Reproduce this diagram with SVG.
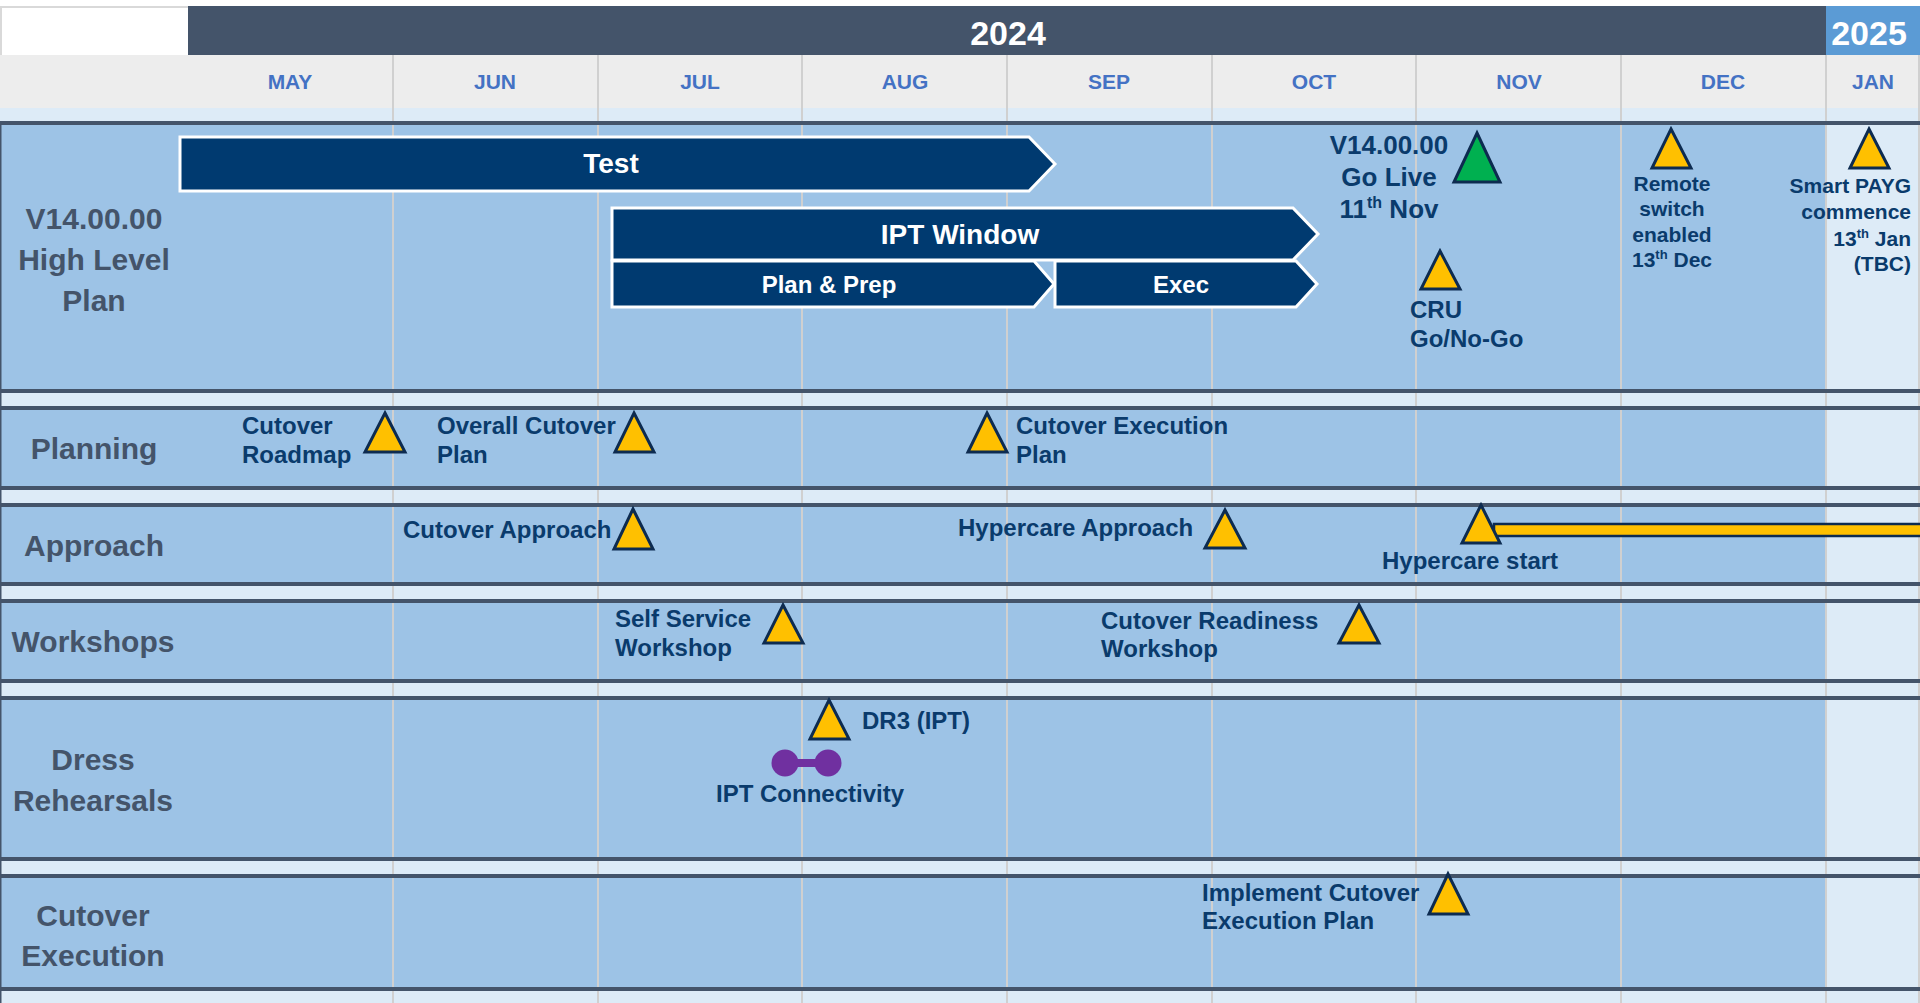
<svg xmlns="http://www.w3.org/2000/svg" width="1920" height="1003" viewBox="0 0 1920 1003">
<defs>
<style>
text{font-family:"Liberation Sans",Arial,sans-serif;font-weight:bold}
.lab{font-size:30px;fill:#44546A;text-anchor:middle}
.mon{font-size:21px;fill:#4472C4;text-anchor:middle}
.yr{font-size:34px;fill:#FFFFFF;text-anchor:middle}
.ms{font-size:24px;fill:#0A3B6C}
.ms21{font-size:21px;fill:#0A3B6C}
.ms26{font-size:26px;fill:#0A3B6C;text-anchor:middle}
.bt{font-size:28px;fill:#FFFFFF;text-anchor:middle}
.bt2{font-size:24px;fill:#FFFFFF;text-anchor:middle}
.bar{fill:#003A70;stroke:#FFFFFF;stroke-width:3}
.tri{fill:#FFC000;stroke:#0D2B50;stroke-width:3;stroke-linejoin:miter}
.band{fill:#9DC3E6}
.strip{fill:#DDEBF7}
.dark{fill:#44546A}
.div{stroke:#D0D0D0;stroke-width:2}
</style>
</defs>
<rect x="0" y="0" width="1920" height="1003" fill="#FFFFFF"/>
<g id="grid">
<rect x="188" y="6" width="1638" height="49" fill="#44546A"/>
<rect x="1826" y="6" width="94" height="49" fill="#5B9BD5"/>
<path d="M1 55 V7 H188" fill="none" stroke="#D9D9D9" stroke-width="2"/>
<rect x="0" y="55" width="1920" height="53" fill="#EDEDED"/>
<rect class="strip" x="0" y="108" width="1920" height="13"/>
<rect class="band" x="0" y="125" width="1826" height="264"/>
<rect class="band" x="0" y="410" width="1826" height="76"/>
<rect class="band" x="0" y="507" width="1826" height="75"/>
<rect class="band" x="0" y="603" width="1826" height="76"/>
<rect class="band" x="0" y="700" width="1826" height="157"/>
<rect class="band" x="0" y="878" width="1826" height="109"/>
<rect class="strip" x="1826" y="121" width="94" height="882"/>
<rect class="strip" x="0" y="393" width="1826" height="13"/>
<rect class="strip" x="0" y="490" width="1826" height="13"/>
<rect class="strip" x="0" y="586" width="1826" height="13"/>
<rect class="strip" x="0" y="683" width="1826" height="13"/>
<rect class="strip" x="0" y="861" width="1826" height="13"/>
<rect class="strip" x="0" y="991" width="1826" height="12"/>
<g class="div">
<line x1="393" y1="55" x2="393" y2="1003"/>
<line x1="598" y1="55" x2="598" y2="1003"/>
<line x1="802" y1="55" x2="802" y2="1003"/>
<line x1="1007" y1="55" x2="1007" y2="1003"/>
<line x1="1212" y1="55" x2="1212" y2="1003"/>
<line x1="1416" y1="55" x2="1416" y2="1003"/>
<line x1="1621" y1="55" x2="1621" y2="1003"/>
<line x1="1826" y1="55" x2="1826" y2="1003"/>
<line x1="1919" y1="55" x2="1919" y2="1003"/>
</g>
<rect class="dark" x="0" y="121" width="1920" height="4"/>
<rect class="dark" x="0" y="389" width="1920" height="4"/>
<rect class="dark" x="0" y="406" width="1920" height="4"/>
<rect class="dark" x="0" y="486" width="1920" height="4"/>
<rect class="dark" x="0" y="503" width="1920" height="4"/>
<rect class="dark" x="0" y="582" width="1920" height="4"/>
<rect class="dark" x="0" y="599" width="1920" height="4"/>
<rect class="dark" x="0" y="679" width="1920" height="4"/>
<rect class="dark" x="0" y="696" width="1920" height="4"/>
<rect class="dark" x="0" y="857" width="1920" height="4"/>
<rect class="dark" x="0" y="874" width="1920" height="4"/>
<rect class="dark" x="0" y="987" width="1920" height="4"/>
<rect class="dark" x="0" y="121" width="1.5" height="882"/>
</g>
<g id="header">
<text class="yr" x="1008" y="45">2024</text>
<text class="yr" x="1869" y="45">2025</text>
<text class="mon" x="290" y="89">MAY</text>
<text class="mon" x="495" y="89">JUN</text>
<text class="mon" x="700" y="89">JUL</text>
<text class="mon" x="905" y="89">AUG</text>
<text class="mon" x="1109" y="89">SEP</text>
<text class="mon" x="1314" y="89">OCT</text>
<text class="mon" x="1519" y="89">NOV</text>
<text class="mon" x="1723" y="89">DEC</text>
<text class="mon" x="1873" y="89">JAN</text>
</g>
<g id="row-labels">
<text class="lab" x="94" y="229">V14.00.00</text>
<text class="lab" x="94" y="270">High Level</text>
<text class="lab" x="94" y="311">Plan</text>
<text class="lab" x="94" y="459">Planning</text>
<text class="lab" x="94" y="556">Approach</text>
<text class="lab" x="93" y="652">Workshops</text>
<text class="lab" x="93" y="770">Dress</text>
<text class="lab" x="93" y="811">Rehearsals</text>
<text class="lab" x="93" y="926">Cutover</text>
<text class="lab" x="93" y="966">Execution</text>
</g>
<g id="connectors">
<rect x="1494" y="524" width="428" height="12" fill="#FFC000" stroke="#0D2B50" stroke-width="2.5"/>
</g>
<g id="bar-test">
<polygon class="bar" points="180,137 1029,137 1055,164 1029,191 180,191"/>
<text class="bt" x="611" y="173">Test</text>
</g>
<g id="bar-ipt-window">
<polygon class="bar" points="612,208 1293,208 1318,234 1293,260 612,260"/>
<text class="bt" x="960" y="244">IPT Window</text>
</g>
<g id="bar-plan-prep">
<polygon class="bar" points="612,261 1034,261 1054,284 1034,307 612,307"/>
<text class="bt2" x="829" y="293">Plan &amp; Prep</text>
</g>
<g id="bar-exec">
<polygon class="bar" points="1055,261 1296,261 1317,284 1296,307 1055,307"/>
<text class="bt2" x="1181" y="293">Exec</text>
</g>
<g id="ms-go-live">
<polygon points="1477,133 1500,182 1454,182" fill="#00B050" stroke="#0D2B50" stroke-width="3"/>
<text class="ms26" x="1389" y="154">V14.00.00</text>
<text class="ms26" x="1389" y="186">Go Live</text>
<text class="ms26" x="1389" y="218">11<tspan font-size="16" dy="-10">th</tspan><tspan dy="10"> Nov</tspan></text>
</g>
<g id="ms-cru">
<polygon class="tri" points="1440,251 1460,289 1421,289"/>
<text class="ms" x="1410" y="318">CRU</text>
<text class="ms" x="1410" y="347">Go/No-Go</text>
</g>
<g id="ms-remote-switch">
<polygon class="tri" points="1671,129 1691,168 1652,168"/>
<text class="ms21" text-anchor="middle" x="1672" y="191">Remote</text>
<text class="ms21" text-anchor="middle" x="1672" y="216">switch</text>
<text class="ms21" text-anchor="middle" x="1672" y="242">enabled</text>
<text class="ms21" text-anchor="middle" x="1672" y="267">13<tspan font-size="13" dy="-8">th</tspan><tspan dy="8"> Dec</tspan></text>
</g>
<g id="ms-smart-payg">
<polygon class="tri" points="1869,129 1889,168 1850,168"/>
<text class="ms21" text-anchor="end" x="1911" y="193">Smart PAYG</text>
<text class="ms21" text-anchor="end" x="1911" y="219">commence</text>
<text class="ms21" text-anchor="end" x="1911" y="246">13<tspan font-size="13" dy="-8">th</tspan><tspan dy="8"> Jan</tspan></text>
<text class="ms21" text-anchor="end" x="1911" y="271">(TBC)</text>
</g>
<g id="ms-cutover-roadmap">
<polygon class="tri" points="385,413 405,452 365,452"/>
<text class="ms" x="242" y="434">Cutover</text>
<text class="ms" x="242" y="463">Roadmap</text>
</g>
<g id="ms-overall-cutover-plan">
<polygon class="tri" points="634,413 654,452 615,452"/>
<text class="ms" x="437" y="434">Overall Cutover</text>
<text class="ms" x="437" y="463">Plan</text>
</g>
<g id="ms-cutover-execution-plan">
<polygon class="tri" points="987,413 1007,452 968,452"/>
<text class="ms" x="1016" y="434">Cutover Execution</text>
<text class="ms" x="1016" y="463">Plan</text>
</g>
<g id="ms-cutover-approach">
<polygon class="tri" points="633,509 653,549 614,549"/>
<text class="ms" x="403" y="538">Cutover Approach</text>
</g>
<g id="ms-hypercare-approach">
<polygon class="tri" points="1225,510 1245,548 1205,548"/>
<text class="ms" x="958" y="536">Hypercare Approach</text>
</g>
<g id="ms-hypercare-start">
<polygon class="tri" points="1481,505 1500,543 1462,543"/>
<text class="ms" x="1382" y="569">Hypercare start</text>
</g>
<g id="ms-self-service">
<polygon class="tri" points="783,605 803,643 764,643"/>
<text class="ms" x="615" y="627">Self Service</text>
<text class="ms" x="615" y="656">Workshop</text>
</g>
<g id="ms-cutover-readiness">
<polygon class="tri" points="1359,605 1379,643 1339,643"/>
<text class="ms" x="1101" y="629">Cutover Readiness</text>
<text class="ms" x="1101" y="657">Workshop</text>
</g>
<g id="ms-dr3">
<polygon class="tri" points="829,700 849,739 810,739"/>
<text class="ms" x="862" y="729">DR3 (IPT)</text>
</g>
<g id="ms-ipt-connectivity">
<rect x="785" y="759" width="43" height="8" fill="#7030A0"/>
<circle cx="785" cy="763" r="13.5" fill="#7030A0"/>
<circle cx="828" cy="763" r="13.5" fill="#7030A0"/>
<text class="ms" text-anchor="middle" x="810" y="802">IPT Connectivity</text>
</g>
<g id="ms-implement-cutover">
<polygon class="tri" points="1448,874 1468,914 1429,914"/>
<text class="ms" x="1202" y="901">Implement Cutover</text>
<text class="ms" x="1202" y="929">Execution Plan</text>
</g>
</svg>
